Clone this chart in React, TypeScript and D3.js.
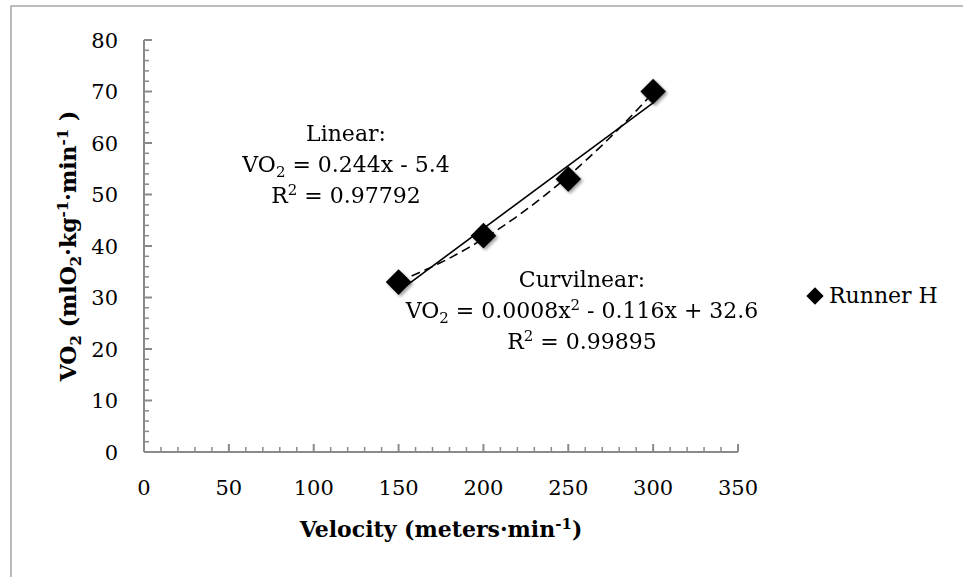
import React from 'react';
import * as d3 from 'd3';

// ---- data ----
const velocity = [150, 200, 250, 300];
const vo2 = [33, 42, 53, 70];
const seriesName = 'Runner H';
const xTickValues = [0, 50, 100, 150, 200, 250, 300, 350];
const yTickValues = [0, 10, 20, 30, 40, 50, 60, 70, 80];
const xMinorStep = 10;
const yMinorStep = 2;

function polyfit(xs: number[], ys: number[], deg: number): number[] {
  const n = deg + 1;
  const A: number[][] = Array.from({ length: n }, () => new Array(n + 1).fill(0));
  for (let r = 0; r < n; r++) {
    for (let c = 0; c < n; c++) {
      A[r][c] = d3.sum(xs, (x) => Math.pow(x, r + c));
    }
    A[r][n] = d3.sum(xs, (x, i) => Math.pow(x, r) * ys[i]);
  }
  for (let i = 0; i < n; i++) {
    let p = i;
    for (let k = i + 1; k < n; k++) if (Math.abs(A[k][i]) > Math.abs(A[p][i])) p = k;
    [A[i], A[p]] = [A[p], A[i]];
    for (let k = i + 1; k < n; k++) {
      const f = A[k][i] / A[i][i];
      for (let j = i; j <= n; j++) A[k][j] -= f * A[i][j];
    }
  }
  const coef = new Array(n).fill(0);
  for (let i = n - 1; i >= 0; i--) {
    let s = A[i][n];
    for (let j = i + 1; j < n; j++) s -= A[i][j] * coef[j];
    coef[i] = s / A[i][i];
  }
  return coef; // c0 + c1 x + c2 x^2
}

const FONT = '"DejaVu Serif", serif';

export default function App() {
  const x = d3.scaleLinear().domain([0, 350]).range([144, 738]);
  const y = d3.scaleLinear().domain([0, 80]).range([452, 40]);

  const lin = polyfit(velocity, vo2, 1);
  const quad = polyfit(velocity, vo2, 2);
  const xMin = d3.min(velocity)!;
  const xMax = d3.max(velocity)!;

  const linePath = d3.line<number>()
    .x((v) => x(v))
    .y((v) => y(lin[0] + lin[1] * v))([xMin, xMax])!;
  const samples = d3.range(xMin, xMax + 0.001, 2);
  const quadPath = d3.line<number>()
    .x((v) => x(v))
    .y((v) => y(quad[0] + quad[1] * v + quad[2] * v * v))(samples)!;

  const diamond = d3.symbol().type(d3.symbolSquare).size(330)()!;
  const legendDiamond = d3.symbol().type(d3.symbolSquare).size(150)()!;

  const xMinor = d3.range(0, 350 + 0.001, xMinorStep).filter((v) => v % 50 !== 0);
  const yMinor = d3.range(0, 80 + 0.001, yMinorStep).filter((v) => v % 10 !== 0);

  const axisColor = '#8a8a8a';
  const sub = { fontSize: 15 };

  return (
    <div style={{ position: 'absolute', left: 0, top: 0 }}>
      <svg width={963} height={577} style={{ display: 'block', fontFamily: FONT }}>
        <defs>
          <filter id="shadow" x="-50%" y="-50%" width="200%" height="200%">
            <feDropShadow dx="2" dy="2" stdDeviation="1.8" floodColor="#000" floodOpacity="0.35" />
          </filter>
        </defs>
        <rect x={0} y={0} width={963} height={577} fill="#fff" />
        {/* chart frame */}
        <rect x={11} y={6} width={980} height={600} fill="none" stroke="#a6a6a6" strokeWidth={1.5} />

        {/* axes */}
        <g stroke={axisColor} strokeWidth={2} fill="none">
          <line x1={x(0)} x2={x(0)} y1={y(80)} y2={y(0)} />
          <line x1={x(0)} x2={x(350)} y1={y(0)} y2={y(0)} />
          {yTickValues.map((v) => (
            <line key={'ym' + v} x1={x(0)} x2={x(0) + 8} y1={y(v)} y2={y(v)} />
          ))}
          {yMinor.map((v) => (
            <line key={'yn' + v} x1={x(0)} x2={x(0) + 5} y1={y(v)} y2={y(v)} strokeWidth={1.5} />
          ))}
          {xTickValues.map((v) => (
            <line key={'xm' + v} x1={x(v)} x2={x(v)} y1={y(0)} y2={y(0) - 8} />
          ))}
          {xMinor.map((v) => (
            <line key={'xn' + v} x1={x(v)} x2={x(v)} y1={y(0)} y2={y(0) - 5} strokeWidth={1.5} />
          ))}
        </g>

        {/* tick labels */}
        <g fontSize={21} fill="#000">
          {yTickValues.map((v) => (
            <text key={'yl' + v} x={118} y={y(v)} dy="0.36em" textAnchor="end">{v}</text>
          ))}
          {xTickValues.map((v) => (
            <text key={'xl' + v} x={x(v)} y={495} textAnchor="middle">{v}</text>
          ))}
        </g>

        {/* axis titles */}
        <text x={(x(0) + x(350)) / 2} y={537} textAnchor="middle" fontSize={22} fontWeight="bold">
          Velocity (meters·min<tspan dy={-8} fontSize={15}>-1</tspan><tspan dy={8}>)</tspan>
        </text>
        <text transform={`translate(76,${(y(0) + y(80)) / 2}) rotate(-90)`} textAnchor="middle" fontSize={22} fontWeight="bold">
          VO<tspan dy={5} {...sub}>2</tspan><tspan dy={-5}> (mlO</tspan><tspan dy={5} {...sub}>2</tspan>
          <tspan dy={-5}>·kg</tspan><tspan dy={-8} {...sub}>-1</tspan><tspan dy={8}>·min</tspan>
          <tspan dy={-8} {...sub}>-1</tspan><tspan dy={8}> )</tspan>
        </text>

        {/* trendlines */}
        <path d={linePath} fill="none" stroke="#000" strokeWidth={1.6} />
        <path d={quadPath} fill="none" stroke="#000" strokeWidth={1.6} strokeDasharray="9,5" />

        {/* markers */}
        <g filter="url(#shadow)">
          {velocity.map((v, i) => (
            <path key={'p' + i} d={diamond} transform={`translate(${x(v)},${y(vo2[i])}) rotate(45)`} fill="#000" />
          ))}
        </g>

        {/* annotations */}
        <g fontSize={22} fill="#000" textAnchor="middle">
          <text x={346} y={141}>Linear:</text>
          <text x={346} y={172}>
            VO<tspan dy={5} {...sub}>2</tspan><tspan dy={-5}> = 0.244x - 5.4</tspan>
          </text>
          <text x={346} y={203}>
            R<tspan dy={-8} {...sub}>2</tspan><tspan dy={8}> = 0.97792</tspan>
          </text>
          <text x={582} y={287}>Curvilnear:</text>
          <text x={582} y={318}>
            VO<tspan dy={5} {...sub}>2</tspan><tspan dy={-5}> = 0.0008x</tspan><tspan dy={-8} {...sub}>2</tspan>
            <tspan dy={8}> - 0.116x + 32.6</tspan>
          </text>
          <text x={582} y={349}>
            R<tspan dy={-8} {...sub}>2</tspan><tspan dy={8}> = 0.99895</tspan>
          </text>
        </g>

        {/* legend */}
        <path d={legendDiamond} transform="translate(815,296) rotate(45)" fill="#000" />
        <text x={829} y={303} fontSize={22}>{seriesName}</text>
      </svg>
    </div>
  );
}
